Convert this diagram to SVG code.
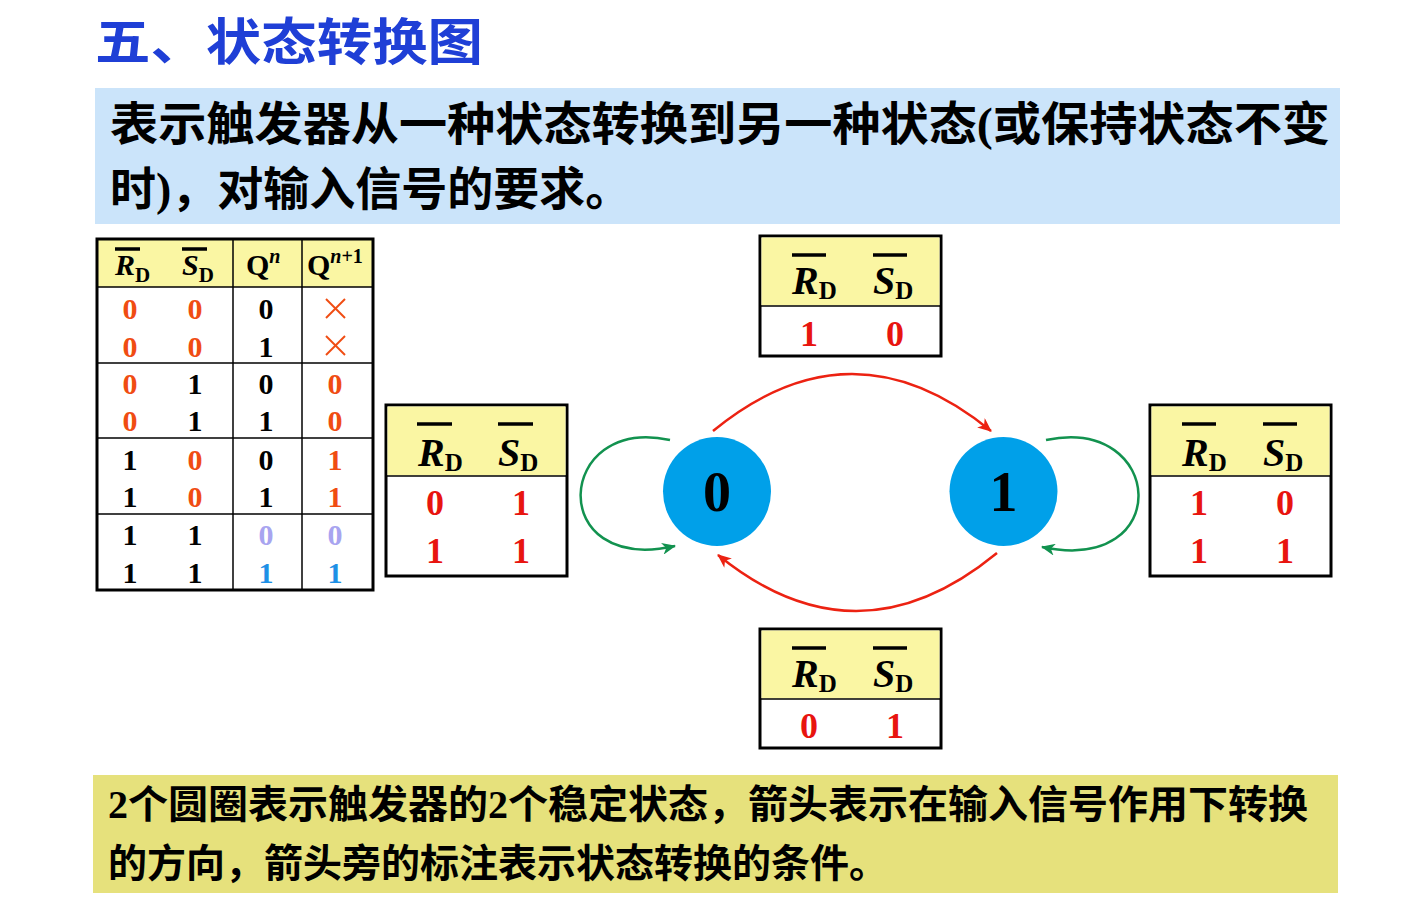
<svg xmlns="http://www.w3.org/2000/svg" width="1403" height="921" viewBox="0 0 1403 921">
<style>
.cjk{font-family:"Liberation Serif","Noto Sans CJK SC",serif;font-weight:bold;fill:#000}
.tm{font-family:"Liberation Serif",serif;font-weight:bold}
.hd{font-size:40px;fill:#000}
.sub{font-size:25px;font-style:normal}
.val{font-size:36px;fill:#e8150f;text-anchor:middle}
.td{font-size:30px;text-anchor:middle}
.or{fill:#f04c12}
.bk{fill:#000}
.lv{fill:#a8a4f0}
.bl{fill:#1e90e6}
.box{fill:#fff;stroke:#000;stroke-width:3}
.hdr{fill:#faf6a3}
.bar{stroke:#000;stroke-width:3.5}
.tl{stroke:#000;stroke-width:1.5}
.red{fill:none;stroke:#ec2212;stroke-width:2.5}
.grn{fill:none;stroke:#12924f;stroke-width:2.5}
.st{fill:#00a0e9}
.stt{font-size:56px;fill:#000;text-anchor:middle}
</style>
<defs>
<marker id="ar" viewBox="0 0 14 12" markerWidth="14" markerHeight="12" refX="13" refY="6" orient="auto" markerUnits="userSpaceOnUse"><path d="M0,0 L14,6 L0,12 L4,6 z" fill="#ec2212"/></marker>
<marker id="ag" viewBox="0 0 14 12" markerWidth="14" markerHeight="12" refX="13" refY="6" orient="auto" markerUnits="userSpaceOnUse"><path d="M0,0 L14,6 L0,12 L4,6 z" fill="#12924f"/></marker>
</defs>
<rect width="1403" height="921" fill="#fff"/>

<g id="title">
<text x="95" y="60" font-family="Noto Sans CJK SC, sans-serif" font-weight="bold" font-size="50" fill="#1f3fd6" textLength="388" lengthAdjust="spacingAndGlyphs">五、状态转换图</text>
</g>

<g id="desc">
<rect x="95" y="88" width="1245" height="136" fill="#cbe4fa"/>
<text class="cjk" x="110" y="140" font-size="46" textLength="1220" lengthAdjust="spacingAndGlyphs">表示触发器从一种状态转换到另一种状态(或保持状态不变</text>
<text class="cjk" x="110" y="205" font-size="46">时)，对输入信号的要求。</text>
</g>

<g id="truth-table">
<rect x="97" y="239" width="276" height="48" class="hdr"/>
<rect x="97" y="239" width="276" height="351" fill="none" stroke="#000" stroke-width="3"/>
<line class="tl" x1="97" y1="287" x2="373" y2="287"/>
<line class="tl" x1="97" y1="363" x2="373" y2="363"/>
<line class="tl" x1="97" y1="438" x2="373" y2="438"/>
<line class="tl" x1="97" y1="514" x2="373" y2="514"/>
<line class="tl" x1="233" y1="239" x2="233" y2="590"/>
<line class="tl" x1="302" y1="239" x2="302" y2="590"/>
<text class="tm" x="115" y="275" font-size="30"><tspan font-style="italic">R</tspan><tspan font-size="21" dy="7">D</tspan></text>
<line class="bar" x1="115" y1="249" x2="140" y2="249" stroke-width="3"/>
<text class="tm" x="182" y="275" font-size="30"><tspan font-style="italic">S</tspan><tspan font-size="21" dy="7">D</tspan></text>
<line class="bar" x1="182" y1="249" x2="207" y2="249" stroke-width="3"/>
<text class="tm" x="246" y="275" font-size="30">Q<tspan font-size="20" font-style="italic" dy="-12">n</tspan></text>
<text class="tm" x="307" y="275" font-size="30">Q<tspan font-size="20" dy="-12"><tspan font-style="italic">n</tspan>+1</tspan></text>
<g class="tm td">
<text x="130" y="319" class="or">0</text><text x="195" y="319" class="or">0</text><text x="266" y="319" class="bk">0</text>
<text x="130" y="357" class="or">0</text><text x="195" y="357" class="or">0</text><text x="266" y="357" class="bk">1</text>
<text x="130" y="394" class="or">0</text><text x="195" y="394" class="bk">1</text><text x="266" y="394" class="bk">0</text><text x="335" y="394" class="or">0</text>
<text x="130" y="431" class="or">0</text><text x="195" y="431" class="bk">1</text><text x="266" y="431" class="bk">1</text><text x="335" y="431" class="or">0</text>
<text x="130" y="470" class="bk">1</text><text x="195" y="470" class="or">0</text><text x="266" y="470" class="bk">0</text><text x="335" y="470" class="or">1</text>
<text x="130" y="507" class="bk">1</text><text x="195" y="507" class="or">0</text><text x="266" y="507" class="bk">1</text><text x="335" y="507" class="or">1</text>
<text x="130" y="545" class="bk">1</text><text x="195" y="545" class="bk">1</text><text x="266" y="545" class="lv">0</text><text x="335" y="545" class="lv">0</text>
<text x="130" y="583" class="bk">1</text><text x="195" y="583" class="bk">1</text><text x="266" y="583" class="bl">1</text><text x="335" y="583" class="bl">1</text>
</g>
<g stroke="#f04c12" stroke-width="2">
<line x1="326" y1="299" x2="345" y2="318"/><line x1="345" y1="299" x2="326" y2="318"/>
<line x1="326" y1="336" x2="345" y2="355"/><line x1="345" y1="336" x2="326" y2="355"/>
</g>
</g>

<g id="cond-hold0">
<rect x="386" y="405" width="181" height="171" class="box"/>
<rect x="387.5" y="406.5" width="178" height="69" class="hdr"/>
<line class="tl" x1="386" y1="476" x2="567" y2="476" stroke-width="2"/>
<text class="tm hd" x="418" y="466"><tspan font-style="italic">R</tspan><tspan class="sub" dy="5">D</tspan></text>
<line class="bar" x1="417" y1="424" x2="452" y2="424"/>
<text class="tm hd" x="498" y="466"><tspan font-style="italic">S</tspan><tspan class="sub" dy="5">D</tspan></text>
<line class="bar" x1="498" y1="424" x2="533" y2="424"/>
<text class="tm val" x="435" y="515">0</text><text class="tm val" x="521" y="515">1</text>
<text class="tm val" x="435" y="563">1</text><text class="tm val" x="521" y="563">1</text>
</g>

<g id="cond-set">
<rect x="760" y="236" width="181" height="120" class="box"/>
<rect x="761.5" y="237.5" width="178" height="68" class="hdr"/>
<line class="tl" x1="760" y1="306" x2="941" y2="306" stroke-width="2"/>
<text class="tm hd" x="792" y="294"><tspan font-style="italic">R</tspan><tspan class="sub" dy="5">D</tspan></text>
<line class="bar" x1="792" y1="255" x2="826" y2="255"/>
<text class="tm hd" x="873" y="294"><tspan font-style="italic">S</tspan><tspan class="sub" dy="5">D</tspan></text>
<line class="bar" x1="873" y1="255" x2="907" y2="255"/>
<text class="tm val" x="809" y="346">1</text><text class="tm val" x="895" y="346">0</text>
</g>

<g id="cond-hold1">
<rect x="1150" y="405" width="181" height="171" class="box"/>
<rect x="1151.5" y="406.5" width="178" height="69" class="hdr"/>
<line class="tl" x1="1150" y1="476" x2="1331" y2="476" stroke-width="2"/>
<text class="tm hd" x="1182" y="466"><tspan font-style="italic">R</tspan><tspan class="sub" dy="5">D</tspan></text>
<line class="bar" x1="1182" y1="424" x2="1216" y2="424"/>
<text class="tm hd" x="1263" y="466"><tspan font-style="italic">S</tspan><tspan class="sub" dy="5">D</tspan></text>
<line class="bar" x1="1263" y1="424" x2="1297" y2="424"/>
<text class="tm val" x="1199" y="515">1</text><text class="tm val" x="1285" y="515">0</text>
<text class="tm val" x="1199" y="563">1</text><text class="tm val" x="1285" y="563">1</text>
</g>

<g id="cond-reset">
<rect x="760" y="629" width="181" height="119" class="box"/>
<rect x="761.5" y="630.5" width="178" height="68" class="hdr"/>
<line class="tl" x1="760" y1="699" x2="941" y2="699" stroke-width="2"/>
<text class="tm hd" x="792" y="687"><tspan font-style="italic">R</tspan><tspan class="sub" dy="5">D</tspan></text>
<line class="bar" x1="792" y1="648" x2="826" y2="648"/>
<text class="tm hd" x="873" y="687"><tspan font-style="italic">S</tspan><tspan class="sub" dy="5">D</tspan></text>
<line class="bar" x1="873" y1="648" x2="907" y2="648"/>
<text class="tm val" x="809" y="738">0</text><text class="tm val" x="895" y="738">1</text>
</g>

<g id="connectors">
<path class="red" d="M713,431 Q852,317 991,431" marker-end="url(#ar)"/>
<path class="red" d="M997,553 Q857,668 718,555" marker-end="url(#ar)"/>
<path class="grn" d="M670,440 C555,415 545,575 675,546" marker-end="url(#ag)"/>
<path class="grn" d="M1046,440 C1165,415 1175,575 1042,547" marker-end="url(#ag)"/>
</g>

<g id="state0">
<ellipse class="st" cx="717" cy="491.5" rx="54" ry="54.5"/>
<text class="tm stt" x="717" y="511">0</text>
</g>
<g id="state1">
<ellipse class="st" cx="1003.5" cy="491.5" rx="54" ry="54.5"/>
<text class="tm stt" x="1003.5" y="511">1</text>
</g>

<g id="note">
<rect x="93" y="775" width="1245" height="118" fill="#e6e17c"/>
<text class="cjk" x="108" y="818" font-size="39" textLength="1200" lengthAdjust="spacingAndGlyphs">2个圆圈表示触发器的2个稳定状态，箭头表示在输入信号作用下转换</text>
<text class="cjk" x="108" y="877" font-size="39">的方向，箭头旁的标注表示状态转换的条件。</text>
</g>
</svg>
